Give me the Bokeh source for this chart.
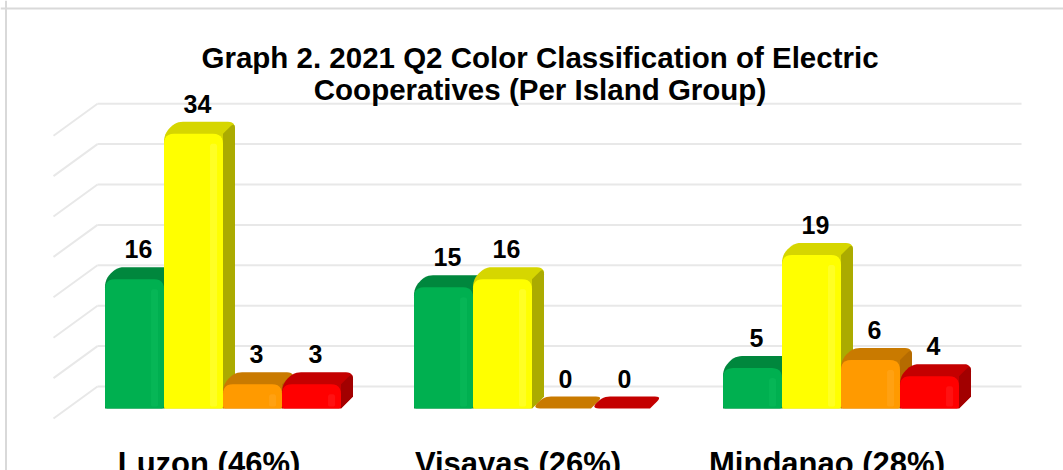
import math
import numpy as np
from bokeh.plotting import figure
from bokeh.models import ColumnDataSource, Range1d, LabelSet, Label, Span
from bokeh.core.properties import value
from bokeh.embed import file_html
from bokeh.resources import INLINE

# ---------------- data ----------------
groups = ["Luzon (46%)", "Visayas (26%)", "Mindanao (28%)"]
series = ["Green", "Yellow", "Orange", "Red"]
green = [16, 15, 5]
yellow = [34, 16, 19]
orange = [3, 0, 6]
red = [3, 0, 4]
grid_ticks = [0, 5, 10, 15, 20, 25, 30, 35]
title_lines = ["Graph 2. 2021 Q2 Color Classification of Electric",
               "Cooperatives (Per Island Group)"]

front_colors = ["#00B050", "#FFFF00", "#FF9A00", "#FF0000"]
top_colors = ["#00873D", "#D6D600", "#C97A00", "#C40000"]
side_colors = ["#007A36", "#ABAB00", "#B56B00", "#A20000"]
shine_colors = ["#12C262", "#FFFF66", "#FFAE33", "#FF3030"]

# ---------------- layout ----------------
W, H = 1063, 470
PXX = 309.0      # pixels per group unit
PXY = 8.08       # pixels per value unit
x_start = -222.5 / PXX
y_start = -62.0 / PXY
y_end = y_start + H / PXY
FONT = "Liberation Sans"

p = figure(width=W, height=H, output_backend="svg", toolbar_location=None,
           x_range=Range1d(x_start, x_start + W / PXX),
           y_range=Range1d(y_start, y_end),
           x_axis_location=None, y_axis_location=None, min_border=0)
p.grid.visible = False
p.outline_line_color = None
p.background_fill_color = "white"

bw = 59 / PXX          # bar width
dX = 12 / PXX          # depth offset x
dY = 12 / PXY          # depth offset y

# walls / grid
wall_left = x_start + 97 / PXX
wall_right = x_start + 1021 / PXX
floor_left = x_start + 53 / PXX
back_off = 22 / PXY
diag_dy = 32 / PXY
gy = [t + back_off for t in grid_ticks]
p.segment(x0=[wall_left] * len(gy), y0=gy, x1=[wall_right] * len(gy), y1=gy,
          line_color="#e8e8e8", line_width=2)
p.segment(x0=[wall_left] * len(gy), y0=gy, x1=[floor_left] * len(gy),
          y1=[g - diag_dy for g in gy], line_color="#e8e8e8", line_width=2)


def rounded(verts, n=7):
    """verts: list of (x, y, radius_px) in data units; returns xs, ys."""
    clean = []
    for v in verts:
        if clean and abs(clean[-1][0] - v[0]) < 1e-9 and abs(clean[-1][1] - v[1]) < 1e-9:
            clean[-1] = (v[0], v[1], max(clean[-1][2], v[2]))
        else:
            clean.append(v)
    if len(clean) > 1 and abs(clean[0][0] - clean[-1][0]) < 1e-9 and abs(clean[0][1] - clean[-1][1]) < 1e-9:
        last = clean.pop()
        clean[0] = (clean[0][0], clean[0][1], max(clean[0][2], last[2]))
    P = [(x * PXX, y * PXY, r) for x, y, r in clean]
    N = len(P)
    out = []
    for i in range(N):
        cx, cy, r = P[i]
        px_, py_, _ = P[i - 1]
        nx, ny, _ = P[(i + 1) % N]
        d1 = math.hypot(px_ - cx, py_ - cy)
        d2 = math.hypot(nx - cx, ny - cy)
        if r <= 0 or d1 == 0 or d2 == 0:
            out.append((cx, cy))
            continue
        r1 = min(r, d1 / 2)
        r2 = min(r, d2 / 2)
        a = (cx + (px_ - cx) / d1 * r1, cy + (py_ - cy) / d1 * r1)
        b = (cx + (nx - cx) / d2 * r2, cy + (ny - cy) / d2 * r2)
        for t in np.linspace(0, 1, n):
            x = (1 - t) ** 2 * a[0] + 2 * (1 - t) * t * cx + t ** 2 * b[0]
            y = (1 - t) ** 2 * a[1] + 2 * (1 - t) * t * cy + t ** 2 * b[1]
            out.append((x, y))
    return [q[0] / PXX for q in out], [q[1] / PXY for q in out]


values = [green, yellow, orange, red]
xs, ys, cols, alphas = [], [], [], []
lab_x, lab_y, lab_t = [], [], []


def add(poly, color, alpha=1.0):
    xs.append(poly[0]); ys.append(poly[1]); cols.append(color); alphas.append(alpha)


for g in range(len(groups)):
    for j in range(len(series)):
        v = values[j][g]
        xl = g - 2 * bw + j * bw
        xr_ = xl + bw
        add(rounded([(xl, 0, 0), (xr_, 0, 0), (xr_ + dX, dY, 0),
                     (xr_ + dX, v + dY, 7), (xl + dX, v + dY, 7), (xl, v, 8)]),
            top_colors[j])
        if v > 0:
            add(rounded([(xr_, 0, 0), (xr_ + dX, dY, 0),
                         (xr_ + dX, v + dY, 7), (xr_, v, 0)]), side_colors[j])
            add(rounded([(xl, 0, 3), (xr_, 0, 3), (xr_, v, 10), (xl, v, 10)]),
                front_colors[j])
            # soft highlight band on the right part of the front face
            hx0 = xl + bw * 0.78
            hx1 = xl + bw * 0.90
            top = max(v - 10 / PXY, 0)
            if top > 4 / PXY:
                add(rounded([(hx0, 2 / PXY, 2), (hx1, 2 / PXY, 2), (hx1, top, 3),
                             (hx0, top, 3)]), shine_colors[j], 0.35)
        lab_x.append((xl + xr_) / 2)
        lab_y.append(v)
        lab_t.append(str(v))

bars = ColumnDataSource(dict(xs=xs, ys=ys, color=cols, alpha=alphas))
p.patches("xs", "ys", source=bars, fill_color="color", fill_alpha="alpha",
          line_color=None)

labels = ColumnDataSource(dict(x=lab_x, y=lab_y, text=lab_t))
p.add_layout(LabelSet(x="x", y="y", text="text", source=labels,
                      x_offset=4, y_offset=30, text_align="center",
                      text_baseline="middle", text_font=value(FONT),
                      text_font_style="bold", text_font_size="25px",
                      text_color="black"))

cats = ColumnDataSource(dict(x=list(range(len(groups))),
                             y=[-65 / PXY] * len(groups), text=groups))
p.add_layout(LabelSet(x="x", y="y", text="text", source=cats, x_offset=-14,
                      text_align="center", text_baseline="alphabetic",
                      text_font=value(FONT), text_font_style="bold",
                      text_font_size="31px", text_color="black"))

for i, line in enumerate(title_lines):
    p.add_layout(Label(x=539.5, y=413 - i * 32, x_units="screen", y_units="screen",
                       text=line, text_align="center", text_baseline="alphabetic",
                       text_font=FONT, text_font_style="bold",
                       text_font_size="29.5px", text_color="black"))

p.add_layout(Span(location=x_start + 5.5 / PXX, dimension="height",
                  line_color="#d9d9d9", line_width=2))
p.add_layout(Span(location=y_end - 8 / PXY, dimension="width",
                  line_color="#d9d9d9", line_width=2))

open("out.html", "w").write(file_html(p, INLINE))
